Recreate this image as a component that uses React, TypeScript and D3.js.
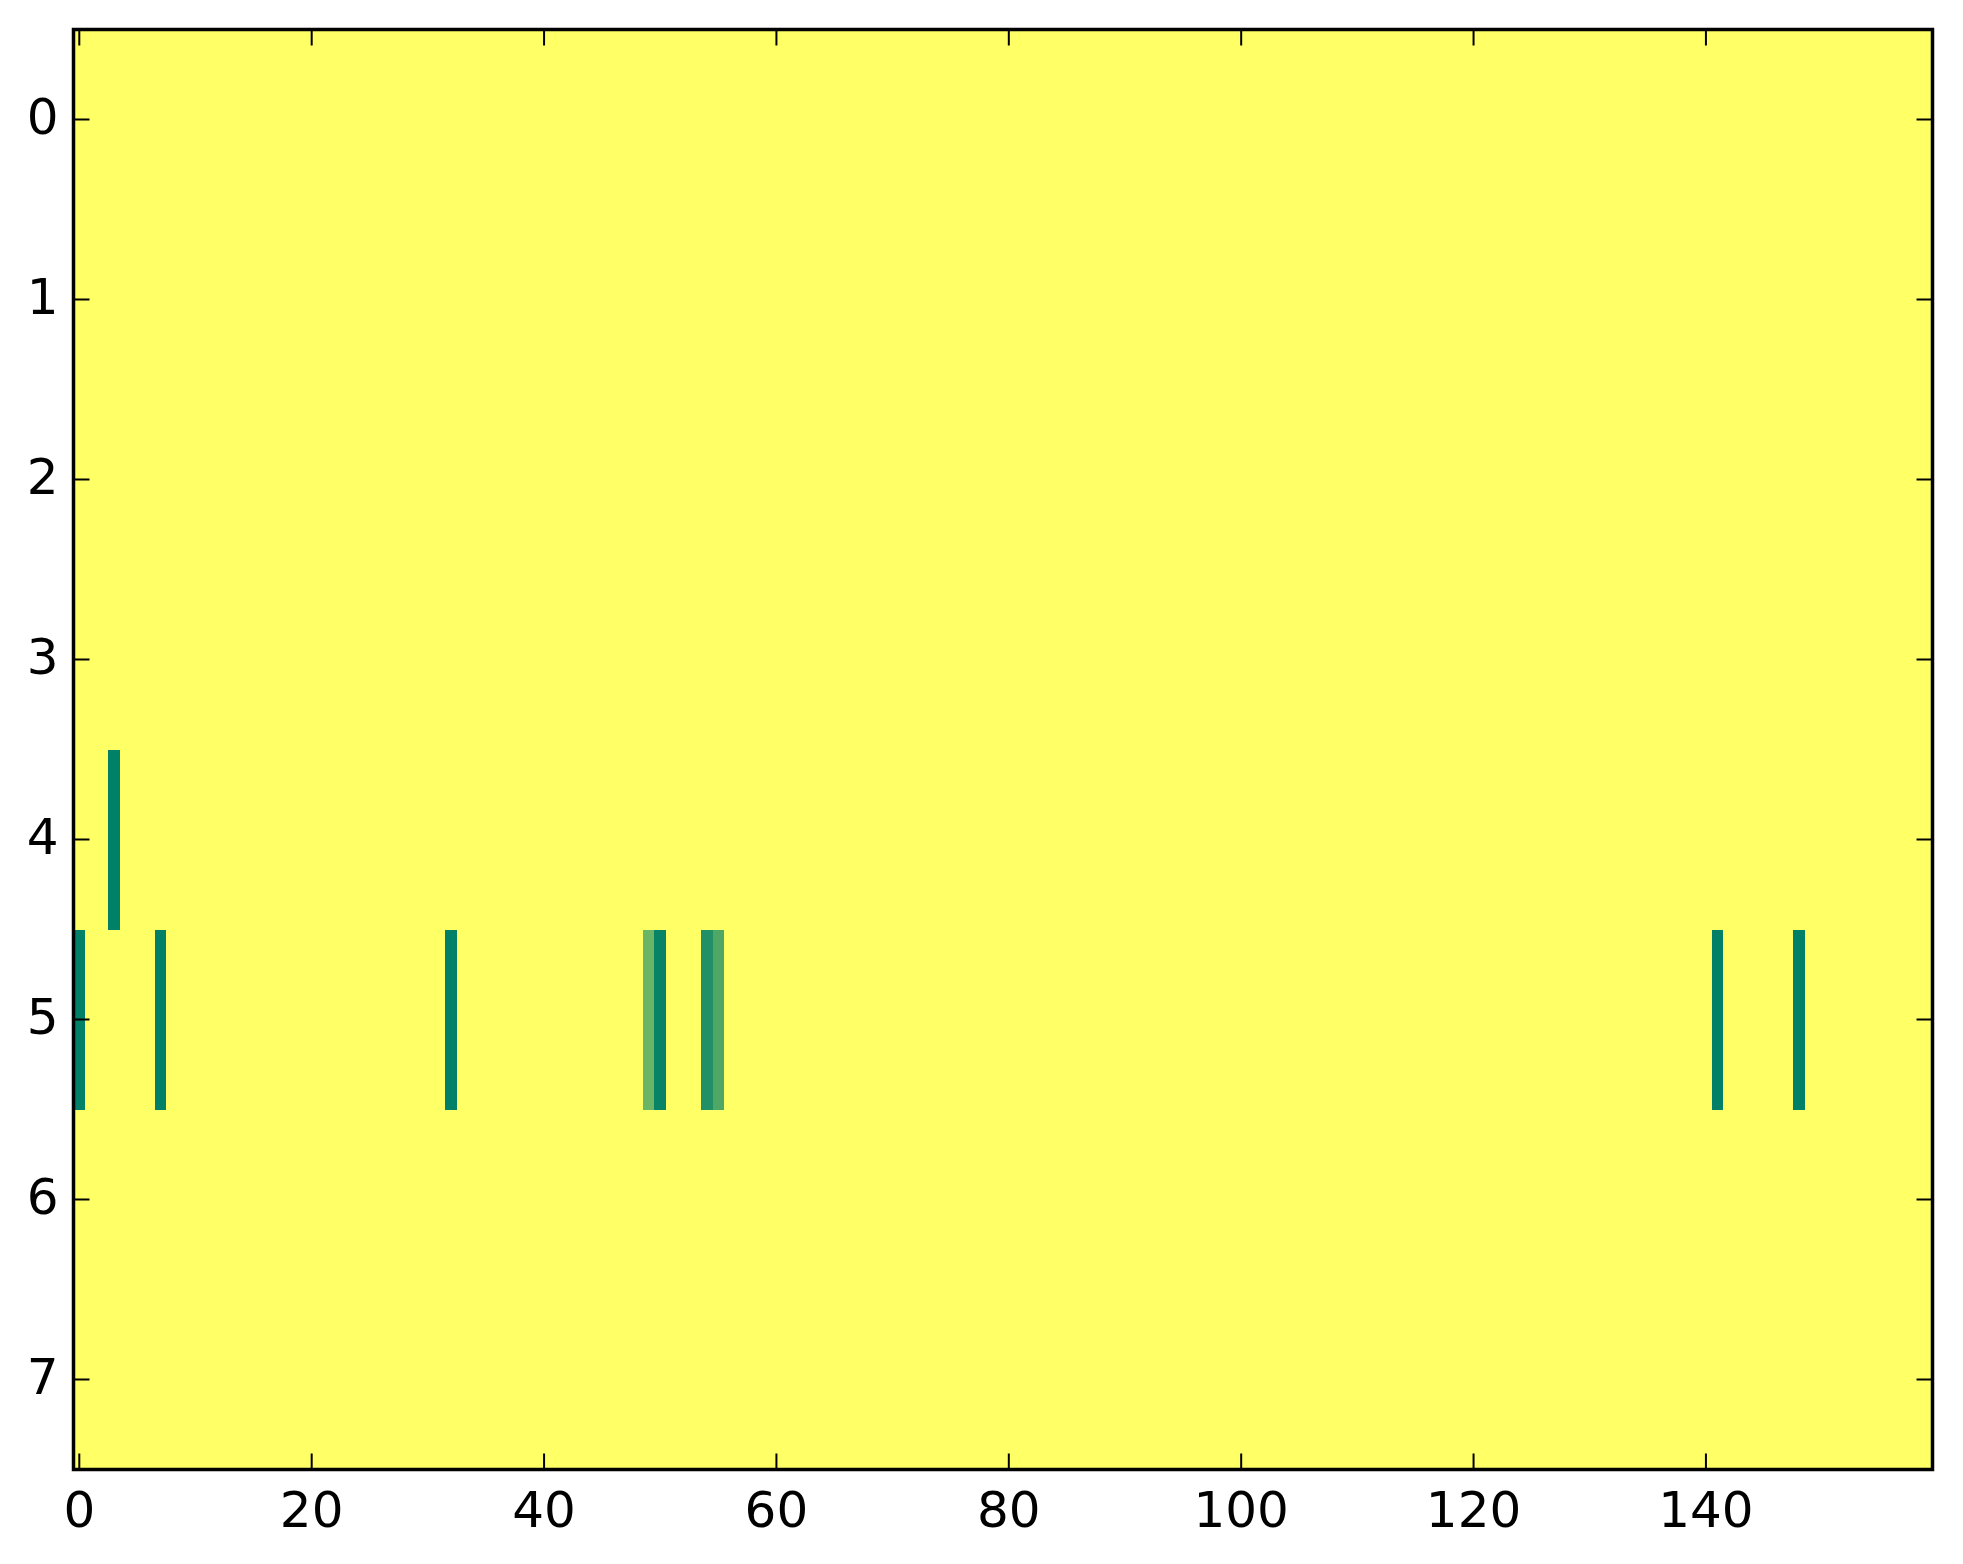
import React from "react";
import * as d3 from "d3";

// ---- data ----
const nRows = 8;
const nCols = 160;
const backgroundValue = 1;
// non-background cells: [row, col, value]
const cellRows = [4, 5, 5, 5, 5, 5, 5, 5, 5, 5];
const cellCols = [3, 0, 7, 32, 49, 50, 54, 55, 141, 148];
const cellVals = [0, 0, 0, 0, 0.42, 0.03, 0.13, 0.31, 0, 0];
const xTicks = [0, 20, 40, 60, 80, 100, 120, 140];
const yTicks = [0, 1, 2, 3, 4, 5, 6, 7];

// ---- layout ----
const W = 1963;
const H = 1564;
const left = 73.5;
const right = 1932.5;
const top = 29.5;
const bottom = 1469.5;
const fontSize = 50;
const tickLen = 16;

const summer = (v: number) =>
  d3.rgb(v * 255, (0.5 + 0.5 * v) * 255, 0.4 * 255).toString();

export default function App() {
  const x = d3.scaleLinear().domain([-0.5, nCols - 0.5]).range([left, right]);
  const y = d3.scaleLinear().domain([-0.5, nRows - 0.5]).range([top, bottom]);

  const matrix: number[][] = d3.range(nRows).map(() =>
    d3.range(nCols).map(() => backgroundValue)
  );
  cellRows.forEach((r, i) => {
    matrix[r][cellCols[i]] = cellVals[i];
  });

  const cells: JSX.Element[] = [];
  matrix.forEach((row, r) =>
    row.forEach((v, c) => {
      const x0 = x(c - 0.5);
      const x1 = x(c + 0.5);
      const y0 = y(r - 0.5);
      const y1 = y(r + 0.5);
      cells.push(
        <rect
          key={`${r}-${c}`}
          x={x0}
          y={y0}
          width={x1 - x0 + 0.6}
          height={y1 - y0 + 0.6}
          fill={summer(v)}
          shapeRendering="crispEdges"
        />
      );
    })
  );

  const font = "'DejaVu Sans', sans-serif";

  return (
    <svg
      width={W}
      height={H}
      style={{ position: "absolute", left: 0, top: 0, background: "#fff" }}
    >
      <defs>
        <clipPath id="clip">
          <rect x={left} y={top} width={right - left} height={bottom - top} />
        </clipPath>
      </defs>
      <g clipPath="url(#clip)">{cells}</g>
      {/* ticks */}
      {xTicks.map((t) => (
        <g key={`xt${t}`}>
          <line x1={x(t)} x2={x(t)} y1={bottom} y2={bottom - tickLen} stroke="#000" strokeWidth={2} />
          <line x1={x(t)} x2={x(t)} y1={top} y2={top + tickLen} stroke="#000" strokeWidth={2} />
          <text
            x={x(t)}
            y={bottom + 57}
            textAnchor="middle"
            fontFamily={font}
            fontSize={fontSize}
            fill="#000"
          >
            {t}
          </text>
        </g>
      ))}
      {yTicks.map((t) => (
        <g key={`yt${t}`}>
          <line x1={left} x2={left + tickLen} y1={y(t)} y2={y(t)} stroke="#000" strokeWidth={2} />
          <line x1={right} x2={right - tickLen} y1={y(t)} y2={y(t)} stroke="#000" strokeWidth={2} />
          <text
            x={left - 15}
            y={y(t) + 14}
            textAnchor="end"
            fontFamily={font}
            fontSize={fontSize}
            fill="#000"
          >
            {t}
          </text>
        </g>
      ))}
      <rect
        x={left}
        y={top}
        width={right - left}
        height={bottom - top}
        fill="none"
        stroke="#000"
        strokeWidth={3.5}
      />
    </svg>
  );
}
